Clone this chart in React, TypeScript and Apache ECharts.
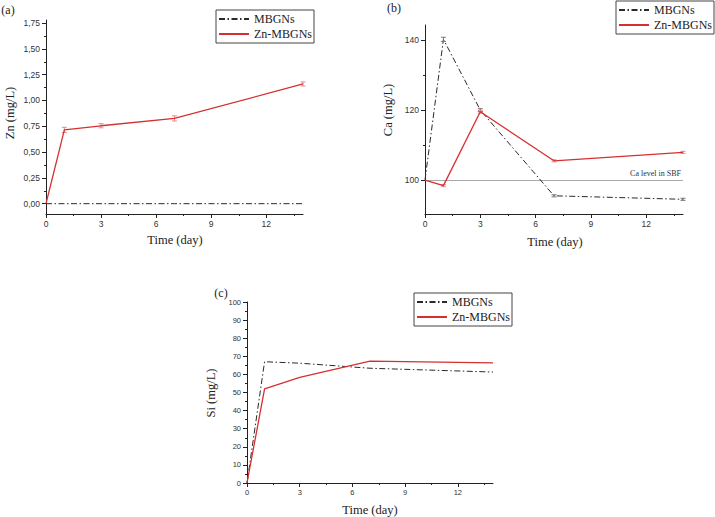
import React, { useEffect, useRef } from "react";
import * as echarts from "echarts";

const days = [0, 1, 3, 7, 14];
const mbgnsZn = [0, 0, 0, 0, 0];
const znmbgnsZn = [0, 0.715, 0.755, 0.826, 1.16];
const znmbgnsZnErr = [0, 0.025, 0.02, 0.025, 0.02];
const mbgnsCa = [100, 140.2, 120, 95.5, 94.5];
const mbgnsCaErr = [0, 0.6, 0.4, 0.3, 0.3];
const znmbgnsCa = [100, 98.4, 119.5, 105.5, 107.9];
const znmbgnsCaErr = [0, 0.3, 0.4, 0.3, 0.3];
const mbgnsSi = [0, 67, 66.2, 63.4, 61.3];
const znmbgnsSi = [0, 52, 58.3, 67.3, 66.4];
const caLevelSBF = 100;

const xTicks = [0, 3, 6, 9, 12];
const xMinor = [1.5, 4.5, 7.5, 10.5, 13.5];
const yTicksA = [0, 0.25, 0.5, 0.75, 1, 1.25, 1.5, 1.75];
const yMinorA = [0.125, 0.375, 0.625, 0.875, 1.125, 1.375, 1.625];
const yTicksB = [100, 120, 140];
const yMinorB = [110, 130];
const yTicksC = [0, 10, 20, 30, 40, 50, 60, 70, 80, 90, 100];
const yMinorC = [5, 15, 25, 35, 45, 55, 65, 75, 85, 95];

const RED = "#d62f2f";
const DARK = "#2a2a2a";
const DASHDOT = [6, 2.5, 1.5, 2.5];
const SERIF = "'Liberation Serif', 'DejaVu Serif', serif";
const SANS = "'Liberation Sans', Arial, sans-serif";

function xAxes(gridIndex: number, fontSize: number) {
  const base = {
    gridIndex,
    type: "value" as const,
    min: 0,
    max: 14,
    position: "bottom" as const,
    splitLine: { show: false },
  };
  return [
    {
      ...base,
      axisLine: { show: true, onZero: false, lineStyle: { color: "#222", width: 1 } },
      axisTick: { show: true, length: 4, customValues: xTicks, lineStyle: { color: "#222" } },
      axisLabel: { show: true, customValues: xTicks, fontSize, fontFamily: SANS, color: "#333", margin: 5 },
    },
    {
      ...base,
      axisLine: { show: false, onZero: false },
      axisTick: { show: true, length: 2, customValues: xMinor, lineStyle: { color: "#222" } },
      axisLabel: { show: false },
    },
  ];
}

function yAxes(
  gridIndex: number,
  min: number,
  max: number,
  ticks: number[],
  minor: number[],
  fontSize: number,
  formatter?: (v: number) => string
) {
  const base = {
    gridIndex,
    type: "value" as const,
    min,
    max,
    position: "left" as const,
    splitLine: { show: false },
  };
  return [
    {
      ...base,
      axisLine: { show: true, onZero: false, lineStyle: { color: "#222", width: 1 } },
      axisTick: { show: true, length: 4, customValues: ticks, lineStyle: { color: "#222" } },
      axisLabel: {
        show: true,
        customValues: ticks,
        fontSize,
        fontFamily: SANS,
        color: "#333",
        margin: 6,
        formatter: formatter || ((v: number) => String(v)),
      },
    },
    {
      ...base,
      axisLine: { show: false, onZero: false },
      axisTick: { show: true, length: 2, customValues: minor, lineStyle: { color: "#222" } },
      axisLabel: { show: false },
    },
  ];
}

function pairs(ys: number[]) {
  return days.map((d, i) => [d, ys[i]]);
}

function errData(ys: number[], errs: number[]) {
  return days.map((d, i) => [d, ys[i] - errs[i], ys[i] + errs[i]]).filter((_, i) => errs[i] > 0);
}

function errSeries(name: string, xi: number, yi: number, ys: number[], errs: number[], color: string) {
  return {
    name,
    type: "custom" as const,
    xAxisIndex: xi,
    yAxisIndex: yi,
    silent: true,
    z: 3,
    data: errData(ys, errs),
    renderItem: (params: any, api: any) => {
      const x = api.value(0);
      const p1 = api.coord([x, api.value(1)]);
      const p2 = api.coord([x, api.value(2)]);
      const w = 2.5;
      const st = { stroke: color, lineWidth: 1 };
      return {
        type: "group",
        children: [
          { type: "line", shape: { x1: p1[0], y1: p1[1], x2: p2[0], y2: p2[1] }, style: st },
          { type: "line", shape: { x1: p1[0] - w, y1: p1[1], x2: p1[0] + w, y2: p1[1] }, style: st },
          { type: "line", shape: { x1: p2[0] - w, y1: p2[1], x2: p2[0] + w, y2: p2[1] }, style: st },
        ],
      };
    },
  };
}

function mbgnsLine(xi: number, yi: number, ys: number[]) {
  return {
    name: "MBGNs",
    type: "line" as const,
    xAxisIndex: xi,
    yAxisIndex: yi,
    data: pairs(ys),
    symbol: "none",
    z: 2,
    lineStyle: { color: DARK, width: 1, type: DASHDOT },
    itemStyle: { color: DARK },
  };
}

function znLine(xi: number, yi: number, ys: number[], extra: any = {}) {
  return {
    name: "Zn-MBGNs",
    type: "line" as const,
    xAxisIndex: xi,
    yAxisIndex: yi,
    data: pairs(ys),
    symbol: "none",
    z: 4,
    lineStyle: { color: RED, width: 1.3 },
    itemStyle: { color: RED },
    ...extra,
  };
}

function legendAt(left: number, top: number) {
  return {
    orient: "vertical" as const,
    left,
    top,
    data: ["MBGNs", "Zn-MBGNs"],
    itemWidth: 30,
    itemHeight: 12,
    itemGap: 3,
    padding: [3, 2, 3, 2],
    borderColor: "#444",
    borderWidth: 1,
    selectedMode: false,
    itemStyle: { opacity: 0 },
    textStyle: { fontFamily: SERIF, fontSize: 12, color: "#222", padding: [0, 0, 0, 0] },
  };
}

function text(x: number, y: number, t: string, size: number, rotate = false) {
  return {
    type: "text" as const,
    x,
    y,
    rotation: rotate ? Math.PI / 2 : 0,
    style: {
      text: t,
      fontFamily: SERIF,
      fontSize: size,
      fill: "#222",
      textAlign: "center",
      textVerticalAlign: "middle",
    },
  };
}

export default function App() {
  const ref = useRef<HTMLDivElement>(null);
  useEffect(() => {
    if (!ref.current) return;
    const chart = echarts.init(ref.current, undefined, { renderer: "svg" });
    const commaFmt = (v: number) => v.toFixed(2).replace(".", ",");
    chart.setOption({
      animation: false,
      backgroundColor: "#fff",
      grid: [
        { left: 46, top: 20, width: 257, height: 194, containLabel: false, outerBoundsMode: "none" },
        { left: 425, top: 25, width: 258, height: 189, containLabel: false, outerBoundsMode: "none" },
        { left: 247, top: 302, width: 246, height: 181, containLabel: false, outerBoundsMode: "none" },
      ],
      xAxis: [...xAxes(0, 8.5), ...xAxes(1, 8.5), ...xAxes(2, 7.5)],
      yAxis: [
        ...yAxes(0, -0.1, 1.78, yTicksA, yMinorA, 8.5, commaFmt),
        ...yAxes(1, 90.3, 144.3, yTicksB, yMinorB, 8.5),
        ...yAxes(2, 0, 100, yTicksC, yMinorC, 7.5),
      ],
      legend: [legendAt(216, 10), legendAt(616, 1), legendAt(414, 293)],
      series: [
        mbgnsLine(0, 0, mbgnsZn),
        znLine(0, 0, znmbgnsZn),
        errSeries("errA", 0, 0, znmbgnsZn, znmbgnsZnErr, "#e88a8a"),
        mbgnsLine(2, 2, mbgnsCa),
        znLine(2, 2, znmbgnsCa, {
          markLine: {
            silent: true,
            symbol: ["none", "none"],
            lineStyle: { color: "#aaaaaa", width: 1, type: "solid" },
            label: {
              show: true,
              position: "insideEndTop",
              formatter: "Ca level in SBF",
              fontFamily: SERIF,
              fontSize: 8,
              color: "#333",
              distance: [2, 3],
            },
            data: [{ yAxis: caLevelSBF }],
            z: 1,
          },
        }),
        errSeries("errB1", 2, 2, mbgnsCa, mbgnsCaErr, "#777"),
        errSeries("errB2", 2, 2, znmbgnsCa, znmbgnsCaErr, "#e88a8a"),
        mbgnsLine(4, 4, mbgnsSi),
        znLine(4, 4, znmbgnsSi),
      ],
      graphic: [
        text(8, 10, "(a)", 12),
        text(394, 8, "(b)", 12),
        text(221, 293, "(c)", 12),
        text(10, 113, "Zn (mg/L)", 12.5, true),
        text(388, 110, "Ca (mg/L)", 12.5, true),
        text(211, 393, "Si (mg/L)", 12.5, true),
        text(175, 240, "Time (day)", 12.5),
        text(555, 242, "Time (day)", 12.5),
        text(370, 510, "Time (day)", 12.5),
      ],
    });
    return () => chart.dispose();
  }, []);
  return (
    <div
      ref={ref}
      style={{ position: "fixed", left: 0, top: 0, width: 715, height: 517, background: "#fff" }}
    />
  );
}
